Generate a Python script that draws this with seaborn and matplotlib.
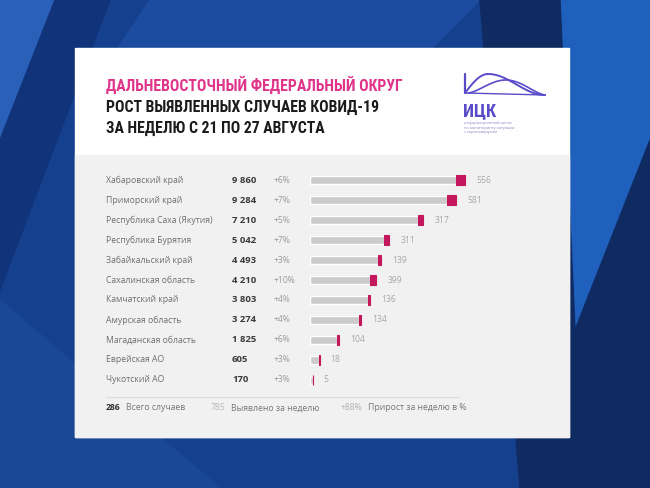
"""
Рост выявленных случаев COVID-19, ДФО, 21-27 августа
- seaborn barplot (horizontal) with weekly increment highlighted
"""

import numpy as np
import pandas as pd
import matplotlib.pyplot as plt
import matplotlib.transforms as mtransforms
from matplotlib.patches import Polygon, Rectangle
import seaborn as sns

# Data
regions = [
    "Хабаровский край", "Приморский край", "Республика Саха (Якутия)",
    "Республика Бурятия", "Забайкальский край", "Сахалинская область",
    "Камчатский край", "Амурская область", "Магаданская область",
    "Еврейская АО", "Чукотский АО",
]
total_cases = [9860, 9284, 7210, 5042, 4493, 4210, 3803, 3274, 1825, 605, 170]
weekly_cases = [556, 581, 317, 311, 139, 399, 136, 134, 104, 18, 5]
growth_pct = ["+6%", "+7%", "+5%", "+7%", "+3%", "+10%", "+4%", "+4%", "+6%", "+3%", "+3%"]

title_lines = [
    "ДАЛЬНЕВОСТОЧНЫЙ ФЕДЕРАЛЬНЫЙ ОКРУГ",
    "РОСТ ВЫЯВЛЕННЫХ СЛУЧАЕВ КОВИД-19",
    "ЗА НЕДЕЛЮ С 21 ПО 27 АВГУСТА",
]
legend_items = [("286", "Всего случаев"), ("785", "Выявлено за неделю"),
                ("+88%", "Прирост за неделю в %")]

# Colors
PINK_TITLE = "#e0338a"
PINK_BAR = "#c4175e"
GRAY_BAR = "#cbcbcb"
LOGO = "#5a4cc8"

sns.set_theme(style="white")
plt.rcParams["font.family"] = ["Open Sans", "DejaVu Sans"]
TITLE_FONT = ["Roboto Condensed", "Liberation Sans Narrow", "DejaVu Sans"]

df = pd.DataFrame({
    "region": regions,
    "total": total_cases,
    "weekly": weekly_cases,
})
df["before"] = df["total"] - df["weekly"]

fig = plt.figure(figsize=(6.5, 4.88), dpi=100)

# Background (pixel coordinates)
bg = fig.add_axes([0, 0, 1, 1])
bg.set_xlim(0, 650)
bg.set_ylim(488, 0)
bg.axis("off")
bg.add_patch(Rectangle((0, 0), 650, 488, color="#15408e", zorder=0))
bg.add_patch(Polygon([(0, 0), (55, 0), (0, 140)], color="#2b60b8", zorder=0))
bg.add_patch(Polygon([(55, 0), (110, 0), (0, 290), (0, 140)], color="#11337a", zorder=0))
bg.add_patch(Polygon([(150, 0), (480, 0), (420, 60), (110, 60)], color="#1c4ca0", zorder=0))
bg.add_patch(Polygon([(560, 0), (650, 0), (650, 140), (575, 330)], color="#2060bd", zorder=0))
bg.add_patch(Polygon([(480, 0), (560, 0), (575, 330), (650, 140), (650, 488), (520, 488)],
                     color="#0f2b62", zorder=0))
bg.add_patch(Polygon([(0, 300), (0, 488), (220, 488)], color="#1a4896", zorder=0))

# Card
bg.add_patch(Rectangle((75, 48), 494, 389, color="white", zorder=1))
bg.add_patch(Rectangle((75, 155), 494, 282, color="#f1f1f1", zorder=1))

# Title
for i, (line, y) in enumerate(zip(title_lines, [85, 107, 128])):
    bg.text(106, y, line, color=PINK_TITLE if i == 0 else "#1b1b1b",
            fontsize=11.3, fontweight="bold", family=TITLE_FONT,
            va="center", ha="left", zorder=3)

# Logo
t = np.linspace(0, 1, 60)
bg.plot([465, 465], [74, 93], color=LOGO, lw=1.6, zorder=3)
bg.plot(465 + 23 * t, 93 - 19 * np.sin(t * np.pi / 2), color=LOGO, lw=1.4, zorder=3)
bg.plot(488 + 57 * t, 74 + 21 * (1 - np.cos(t * np.pi)) / 2, color=LOGO, lw=1.4, zorder=3)
bg.plot(468 + 77 * t, 93 - 14 * np.sin(t * np.pi) ** 1.5 + 2 * t, color=LOGO, lw=1.2, zorder=3)
bg.plot([465, 545], [93, 95], color=LOGO, lw=1.0, zorder=3)
bg.text(463, 111, "ИЦК", color=LOGO, fontsize=13, fontweight="bold",
        family=TITLE_FONT, va="center", ha="left", zorder=3)
for j, s in enumerate(["информационный центр", "по мониторингу ситуации", "с коронавирусом"]):
    bg.text(464, 123 + j * 4.5, s, color="#8a84c8", fontsize=2.8, va="center", zorder=3)

# Bars
ax = fig.add_axes([310 / 650, 1 - 390 / 488, 250 / 650, 220 / 488])
ax.patch.set_alpha(0)
sns.barplot(data=df, x="before", y="region", orient="h", color=GRAY_BAR,
            width=0.38, saturation=1, ax=ax, zorder=2)
ax.barh(np.arange(len(df)), df["weekly"], left=df["before"], height=0.5,
        color=PINK_BAR, edgecolor=PINK_BAR, linewidth=0.8, zorder=3)
ax.set_xlim(0, 250 * 9860 / 155)
ax.set_ylim(len(df) - 0.5, -0.5)
ax.axis("off")

for i, row in df.iterrows():
    ax.annotate(f"{row['weekly']}", xy=(row["total"], i), xytext=(8, 0),
                textcoords="offset points", va="center", ha="left",
                fontsize=6.2, color="#a8a8a8")

# Row labels (x in pixels, y from category axis)
trans = mtransforms.blended_transform_factory(bg.transData, ax.transData)
for i, row in df.iterrows():
    ax.text(106, i, row["region"], transform=trans, va="center", ha="left",
            fontsize=6.2, color="#6e6e6e")
    ax.text(232, i, f"{row['total']:,}".replace(",", " "), transform=trans,
            va="center", ha="left", fontsize=6.8, fontweight="bold", color="#3a3a3a")
    ax.text(274, i, growth_pct[i], transform=trans, va="center", ha="left",
            fontsize=6.2, color="#9a9a9a")

# Footer legend
bg.plot([106, 459], [397, 397], color="#dcdcdc", lw=0.8, zorder=3)
for (num, label), x, ncol, nw in zip(legend_items, [106, 211, 341],
                                     ["#333333", "#b8b8b8", "#b0b0b0"],
                                     ["bold", "normal", "normal"]):
    txt = bg.text(x, 408, num, color=ncol, fontsize=6.2, fontweight=nw,
                  va="center", ha="left", zorder=3)
    bg.annotate(label, xy=(1, 0.5), xycoords=txt, xytext=(4, 0),
                textcoords="offset points", va="center", ha="left",
                fontsize=6.2, color="#777777", zorder=3)

plt.savefig("out.png", dpi=100)
